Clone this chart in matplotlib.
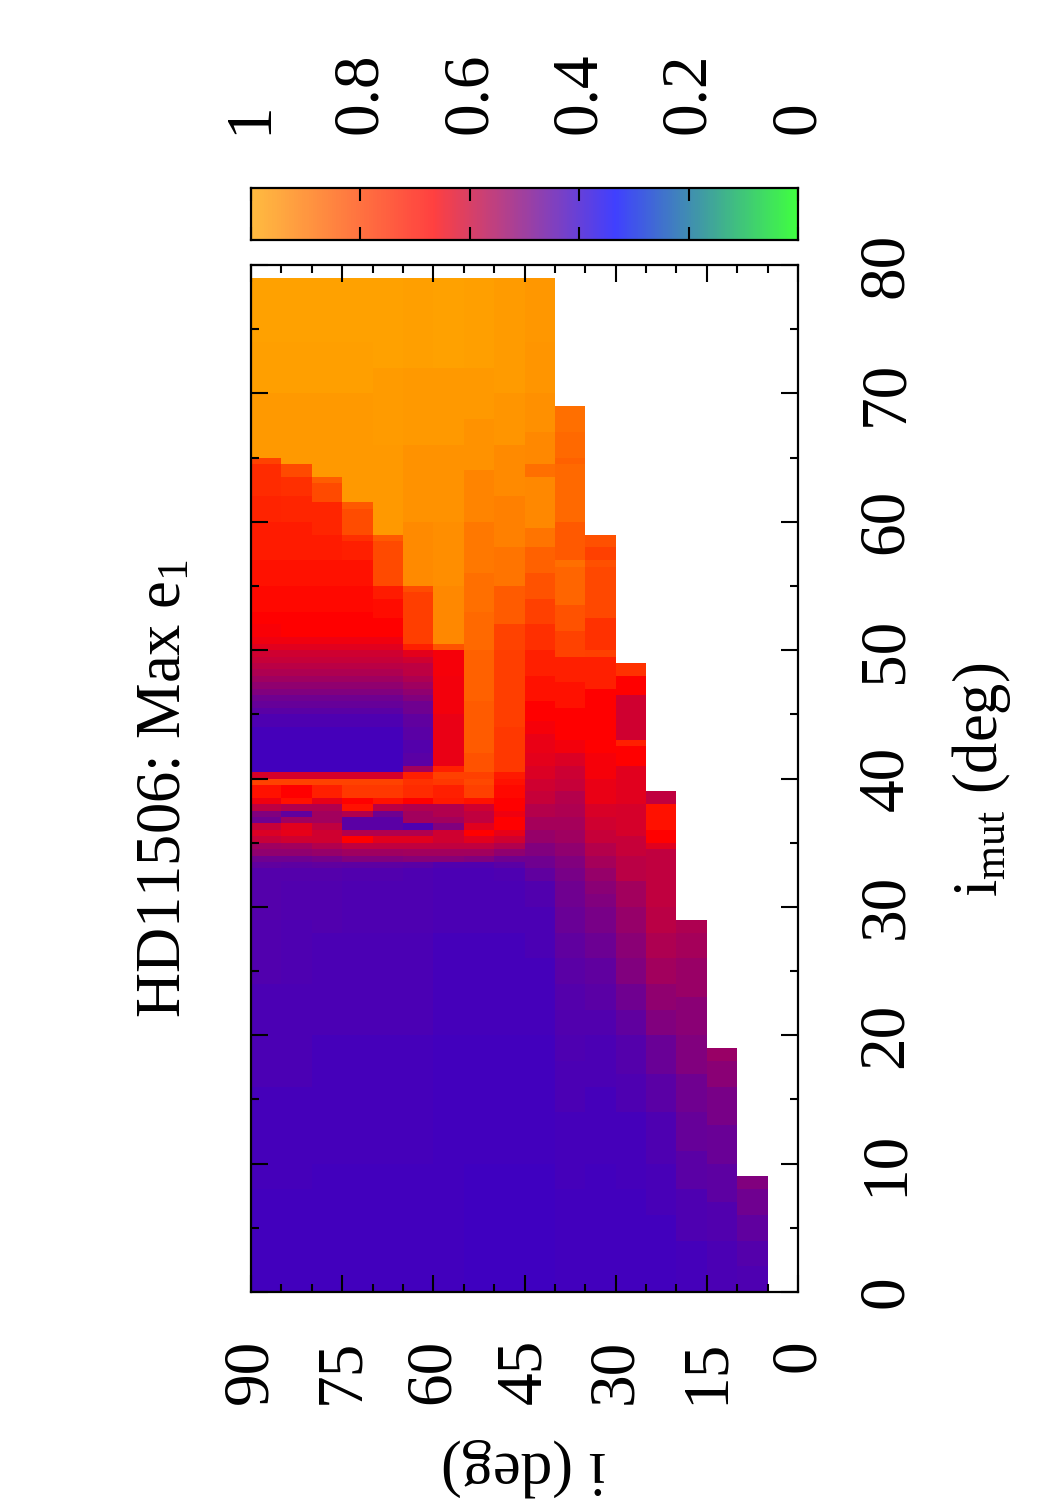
import numpy as np
import matplotlib.pyplot as plt
from matplotlib.colors import LinearSegmentedColormap

plt.rcParams['font.family'] = ['Liberation Serif', 'DejaVu Serif']
plt.rcParams['mathtext.fontset'] = 'custom'
plt.rcParams['mathtext.rm'] = 'Liberation Serif'
plt.rcParams['mathtext.it'] = 'Liberation Serif:italic'

# i (deg): lower edge of every 5-degree column
i_lower = [5, 10, 15, 20, 25, 30, 35, 40, 45, 50, 55, 60, 65, 70, 75, 80, 85]

# Max e1 along i_mut for every column: (i_mut where the step starts, value)
col_i05 = [(0, .435), (2, .445), (4, .46), (6, .48), (8, .50)]
col_i10 = [(0, .43), (4, .44), (7, .455), (10, .47), (13, .49), (16, .515), (18, .535)]
col_i15 = [(0, .425), (4, .435), (8, .45), (11, .465), (14, .48), (17, .50), (20, .515),
           (23, .535), (26, .55), (28, .56)]
col_i20 = [(0, .42), (6, .427), (10, .435), (14, .45), (17, .47), (20, .50), (22, .52),
           (24, .543), (26, .56), (28, .575), (30, .585), (34.5, .626), (35, .667),
           (36, .70), (38, .584)]
col_i25 = [(0, .42), (8, .425), (14, .435), (17, .445), (20, .46), (22, .48), (24, .50),
           (26, .515), (28, .53), (30, .545), (32, .575), (34, .59), (35.5, .61),
           (38, .626), (41, .667), (42.5, .73), (43, .605), (46.5, .667), (48, .764)]
col_i30 = [(0, .42), (10, .425), (16, .43), (20, .44), (22, .45), (24, .46), (26, .475),
           (28, .49), (30, .50), (31, .515), (32, .53), (33, .55), (34, .57), (35, .59),
           (36, .605), (37, .615), (38, .64), (40, .655), (42, .667), (47, .73),
           (49.5, .796), (50, .764), (52.5, .812), (56.5, .828), (57, .796), (58, .828)]
col_i35 = [(0, .42), (8, .425), (14, .43), (18, .435), (20, .44), (22, .445), (24, .45),
           (26, .46), (28, .47), (30, .48), (32, .49), (33, .50), (34, .52), (35, .54),
           (36, .55), (37, .56), (38, .57), (39, .59), (40, .60), (41, .62), (42, .65),
           (43, .667), (45.5, .70), (47.5, .73), (49.5, .80), (51.5, .83), (53.5, .87),
           (56.5, .89), (57, .845), (60, .877), (64.5, .86), (65, .877), (67, .89)]
col_i40 = [(0, .417), (10, .42), (20, .425), (26, .43), (30, .44), (32, .46), (33, .48),
           (34, .50), (35, .53), (36, .55), (37, .57), (38, .59), (39, .605), (40, .62),
           (41, .63), (42, .64), (43.5, .655), (44.5, .667), (46, .70), (48, .73),
           (50, .76), (52, .796), (54, .83), (56, .86), (58, .90), (59.5, .94),
           (63.5, .89), (64.5, .94), (67, .955), (70, .965), (74, .97)]
col_i45 = [(0, .417), (10, .42), (20, .425), (28, .43), (32, .437), (33, .45), (33.5, .48),
           (34, .52), (34.5, .563), (35, .605), (35.5, .635), (36, .667), (37, .647),
           (37.5, .667), (38.5, .683), (39.5, .70), (40, .715), (40.5, .78), (44, .79),
           (50, .80), (52, .85), (55, .90), (58, .925), (62, .945), (66, .965), (70, .98)]
col_i50 = [(0, .417), (10, .42), (20, .425), (28, .43), (33, .44), (33.5, .50), (34, .543),
           (34.5, .584), (35, .626), (35.5, .667), (36, .626), (36.5, .584), (37.5, .605),
           (38, .70), (38.5, .796), (39.5, .81), (40, .796), (40.5, .83), (42, .85),
           (46, .86), (50, .875), (53, .89), (56, .91), (60, .93), (64, .96), (68, .975),
           (72, .985)]
col_i55 = [(0, .418), (10, .42), (20, .425), (28, .43), (33, .44), (33.5, .51), (34, .543),
           (34.5, .584), (35, .605), (36, .50), (36.5, .543), (37, .563), (38, .715),
           (38.5, .73), (39.5, .78), (40, .796), (40.5, .73), (41, .64), (45, .65),
           (48, .655), (50, .83), (50.5, .94), (55, .95), (60, .96), (66, .975), (72, .99)]
col_i60 = [(0, .42), (10, .423), (20, .43), (28, .435), (32, .437), (33, .45), (33.5, .51),
           (34, .543), (34.5, .584), (35, .626), (35.5, .563), (36, .437), (36.5, .543),
           (37.5, .563), (38, .667), (38.5, .75), (39.5, .764), (40, .73), (40.5, .543),
           (41, .45), (42, .445), (43, .45), (44, .46), (45, .48), (46, .50), (46.5, .52),
           (47, .54), (47.5, .56), (48, .58), (49, .605), (49.5, .63), (50, .73),
           (50.5, .79), (54.5, .82), (55, .945), (60, .96), (66, .975), (72, .985)]
col_i65 = [(0, .42), (10, .425), (20, .43), (28, .435), (32, .44), (33, .455), (33.5, .50),
           (34, .54), (34.5, .584), (35, .626), (35.5, .563), (36, .45), (37, .48),
           (37.5, .575), (38, .70), (38.5, .78), (39.5, .80), (40, .61), (40.5, .42),
           (43, .425), (44, .435), (45, .45), (45.5, .465), (46, .48), (46.5, .50),
           (47, .52), (47.5, .54), (48, .56), (48.5, .575), (49, .59), (49.5, .605),
           (50, .625), (50.5, .645), (51, .667), (52.5, .69), (54, .72), (55, .815),
           (58.5, .845), (59, .975), (66, .98), (72, .99)]
col_i70 = [(0, .42), (10, .425), (20, .43), (28, .437), (32, .44), (33, .455), (33.5, .50),
           (34, .54), (34.5, .584), (35, .667), (35.5, .563), (36, .45), (37, .563),
           (37.5, .70), (38, .667), (38.5, .78), (39.5, .80), (40, .61), (40.5, .42),
           (43, .425), (44, .435), (45, .45), (45.5, .465), (46, .48), (46.5, .50),
           (47, .52), (47.5, .54), (48, .56), (48.5, .575), (49, .59), (49.5, .605),
           (50, .625), (50.5, .645), (51, .665), (53, .68), (55, .70), (57, .73),
           (58.5, .76), (59, .82), (61, .845), (61.5, .975), (70, .985), (74, .99)]
col_i75 = [(0, .42), (10, .425), (20, .432), (28, .44), (32, .445), (33, .46), (33.5, .485),
           (34, .53), (34.5, .563), (35, .605), (36, .584), (36.5, .543), (37.5, .563),
           (38, .635), (38.5, .73), (39.5, .80), (40, .61), (40.5, .42), (43, .425),
           (44, .435), (45, .45), (45.5, .465), (46, .48), (46.5, .50), (47, .52),
           (47.5, .54), (48, .56), (48.5, .575), (49, .59), (49.5, .605), (50, .625),
           (50.5, .645), (51, .665), (53, .68), (55, .70), (57, .72), (59, .74),
           (61.5, .815), (63, .855), (63.5, .975), (70, .985), (74, .99)]
col_i80 = [(0, .42), (8, .425), (16, .43), (24, .437), (29, .44), (32, .445), (33, .455),
           (33.5, .48), (34, .52), (34.5, .545), (35, .605), (35.5, .635), (36, .626),
           (36.5, .54), (37, .46), (37.5, .563), (38, .70), (38.5, .667), (39.5, .80),
           (40, .61), (40.5, .42), (43, .425), (44, .435), (45, .45), (45.5, .465),
           (46, .48), (46.5, .50), (47, .52), (47.5, .54), (48, .56), (48.5, .575),
           (49, .59), (49.5, .605), (50, .625), (50.5, .645), (51, .665), (53, .68),
           (55, .70), (57, .72), (60, .74), (62, .76), (63.5, .815), (64.5, .975),
           (70, .985), (74, .99)]
col_i85 = [(0, .42), (8, .425), (16, .432), (24, .44), (29, .445), (33, .46), (33.5, .48),
           (34, .52), (34.5, .54), (35, .59), (35.5, .62), (36, .59), (36.5, .48), (37, .50),
           (37.5, .58), (38, .647), (38.5, .70), (39.5, .80), (40, .61), (40.5, .42),
           (43, .425), (44, .435), (45, .45), (45.5, .465), (46, .48), (46.5, .50),
           (47, .52), (47.5, .54), (48, .56), (48.5, .575), (49, .59), (49.5, .605),
           (50, .625), (50.5, .645), (51, .66), (52, .667), (53, .68), (55, .70), (57, .72),
           (60, .735), (62, .75), (64.5, .80), (65, .975), (70, .985), (74, .99)]

columns = [col_i05, col_i10, col_i15, col_i20, col_i25, col_i30, col_i35, col_i40, col_i45,
           col_i50, col_i55, col_i60, col_i65, col_i70, col_i75, col_i80, col_i85]

i_ticks = [0, 15, 30, 45, 60, 75, 90]
imut_ticks = [0, 10, 20, 30, 40, 50, 60, 70, 80]
cb_ticks = [0, 0.2, 0.4, 0.6, 0.8, 1]
cb_labels = ['0', '0.2', '0.4', '0.6', '0.8', '1']

# grid: 5 deg in i, half a degree in i_mut, cells only where i_mut < 2 i
i_edges = np.array(i_lower + [90])
imut_edges = np.arange(0, 79.5, 0.5)
Z = np.full((len(imut_edges) - 1, len(i_lower)), np.nan)
for j, (ilo, segs) in enumerate(zip(i_lower, columns)):
    top = min(2 * ilo - 1, 79)
    starts = [s for s, v in segs]
    vals = [v for s, v in segs]
    for k, r in enumerate(imut_edges[:-1]):
        if r + 0.5 <= top:
            Z[k, j] = vals[np.searchsorted(starts, r, side='right') - 1]
Z = np.ma.masked_invalid(Z)

cmap = LinearSegmentedColormap.from_list(
    'gbro', [(0, '#00ff00'), (1 / 3, '#0000ff'), (2 / 3, '#ff0000'), (1, '#ffa500')])

W, H = 1050, 1500


def box(x0, y0, x1, y1):
    # pixel box (top-left origin) -> figure fraction
    return [x0 / W, 1 - y1 / H, (x1 - x0) / W, (y1 - y0) / H]


fig = plt.figure(figsize=(W / 100, H / 100), dpi=100)

# main map (page is turned: i runs right to left, i_mut bottom to top)
ax = fig.add_axes(box(251, 265, 798, 1292))
ax.pcolormesh(i_edges, imut_edges, Z, cmap=cmap, vmin=0, vmax=1, shading='flat',
              antialiased=False, linewidth=0)
ax.set_xlim(90, 0)
ax.set_ylim(0, 80)
ax.set_xticks(i_ticks, [str(t) for t in i_ticks])
ax.set_xticks(range(0, 91, 5), minor=True)
ax.set_yticks(imut_ticks, [str(t) for t in imut_ticks])
ax.set_yticks(range(0, 81, 5), minor=True)
ax.tick_params(which='both', direction='in', top=True, bottom=True, left=True, right=True,
               width=1.5)
ax.tick_params(which='major', length=12)
ax.tick_params(which='minor', length=5.8)
ax.tick_params(axis='x', labelsize=47, pad=34, labelrotation=90)
ax.tick_params(axis='y', labelleft=False, labelright=True, labelsize=47, pad=42,
               labelrotation=90)
for t in ax.get_yticklabels():
    t.set_verticalalignment('center')
for s in ax.spines.values():
    s.set_linewidth(1.6)

# colour box on top, 1 at the left
cax = fig.add_axes(box(251, 188, 798, 240))
levels = np.linspace(0, 1, 257)
cax.pcolormesh(levels, [0, 1], ((levels[:-1] + levels[1:]) / 2)[None, :], cmap=cmap,
               vmin=0, vmax=1, alpha=0.75, antialiased=False, linewidth=0)
cax.set_xlim(1, 0)
cax.set_ylim(0, 1)
cax.set_yticks([])
cax.set_xticks(cb_ticks, cb_labels)
cax.tick_params(axis='x', direction='in', top=True, bottom=True, length=9.4, width=1.5,
                labeltop=True, labelbottom=False, labelrotation=90, labelsize=47, pad=39)
for s in cax.spines.values():
    s.set_linewidth(1.6)

fig.text(180 / W, 1 - 788 / H, 'HD11506: Max e$_1$', rotation=90, rotation_mode='anchor',
         ha='center', va='baseline', fontsize=45)
fig.text(997 / W, 1 - 780 / H, 'i$_{\\mathrm{mut}}$ (deg)', rotation=90,
         rotation_mode='anchor', ha='center', va='baseline', fontsize=45)
fig.text(524 / W, 1 - 1452 / H, 'i (deg)', rotation=180, rotation_mode='anchor',
         ha='center', va='baseline', fontsize=45)

fig.savefig('out.png', dpi=100)
